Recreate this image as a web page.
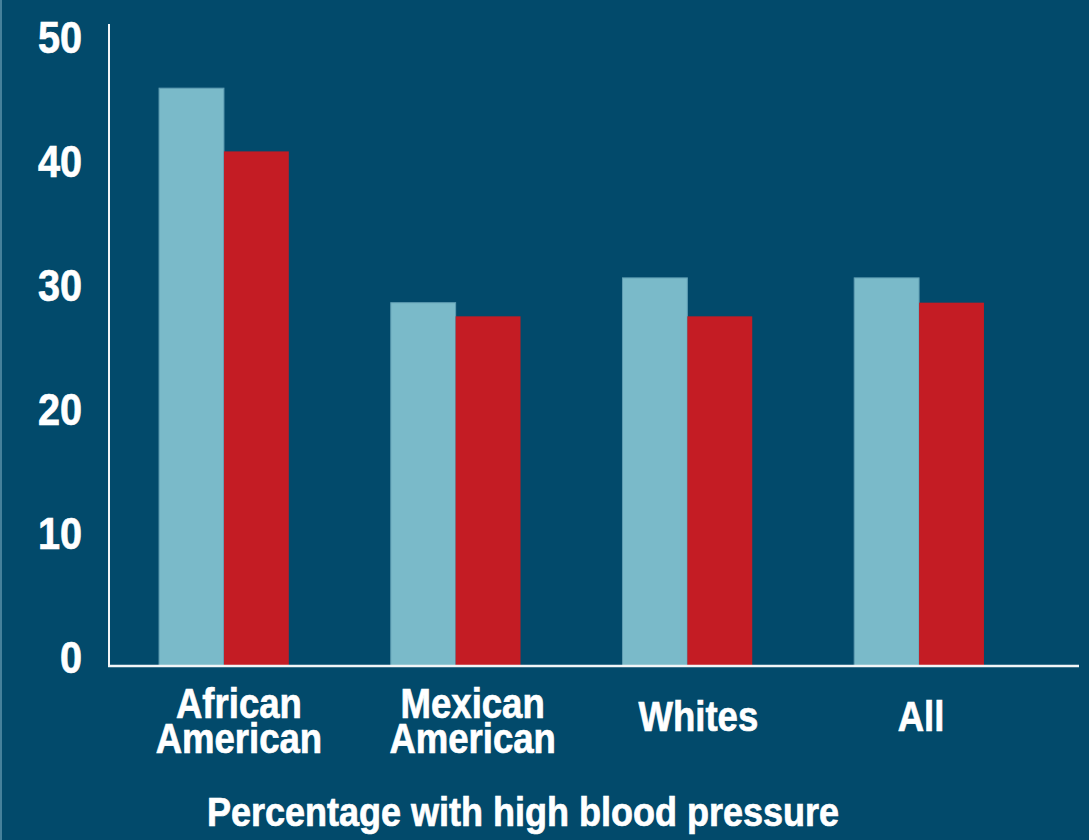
<!DOCTYPE html>
<html>
<head>
<meta charset="utf-8">
<script src="https://cdn.jsdelivr.net/npm/d3@7"></script>
<style>
  html, body { margin: 0; padding: 0; background: #024a6b; }
  svg { display: block; }
  text { font-family: "Liberation Sans", Arial, sans-serif; font-weight: bold; fill: #ffffff; stroke: #ffffff; stroke-width: 0.7px; }
</style>
</head>
<body>
<div id="chart"></div>
<script>
// data
const categories = [['African', 'American'], ['Mexican', 'American'], ['Whites'], ['All']]
const seriesNames = ['light', 'red']
const lightValues = [46.6, 29.3, 31.3, 31.3]
const redValues = [41.5, 28.2, 28.2, 29.3]
const yTicks = [0, 10, 20, 30, 40, 50]
const axisTitle = 'Percentage with high blood pressure'

const colors = { light: '#7abac9', red: '#c41c24' }

const draw = () => {
  const dimensions = {
    width: 1089,
    height: 840,
    left: 109,
    right: 1034,
    top: 46,
    bottom: 666,
  }

  const svg = d3
    .select('#chart')
    .append('svg')
    .attr('width', dimensions.width)
    .attr('height', dimensions.height)

  svg.append('rect')
    .attr('width', dimensions.width)
    .attr('height', dimensions.height)
    .attr('fill', '#024a6b')

  // faint left edge
  svg.append('line')
    .attr('x1', 1).attr('x2', 1)
    .attr('y1', 0).attr('y2', dimensions.height)
    .attr('stroke', '#5e94ab')
    .attr('stroke-width', 1.5)

  const dataset = categories.map((c, i) => ({
    label: c,
    light: lightValues[i],
    red: redValues[i],
  }))

  // scales
  const xScale = d3
    .scaleBand()
    .domain(d3.range(categories.length))
    .range([dimensions.left, dimensions.right])
    .paddingInner(0.44)
    .paddingOuter(0.216)

  const xInner = d3
    .scaleBand()
    .domain(seriesNames)
    .range([0, xScale.bandwidth()])

  const yScale = d3
    .scaleLinear()
    .domain([0, 50])
    .range([dimensions.bottom, dimensions.top])

  // bars
  const groups = svg
    .append('g')
    .selectAll('g')
    .data(dataset)
    .join('g')
    .attr('transform', (d, i) => `translate(${xScale(i)}, 0)`)

  groups
    .selectAll('rect')
    .data((d) => seriesNames.map((k) => ({ key: k, value: d[k] })))
    .join('rect')
    .attr('x', (d) => xInner(d.key))
    .attr('y', (d) => yScale(d.value))
    .attr('width', xInner.bandwidth())
    .attr('height', (d) => dimensions.bottom - yScale(d.value))
    .attr('fill', (d) => colors[d.key])
    .attr('stroke', (d) => (d.key === 'light' ? '#5f9db3' : 'none'))
    .attr('stroke-width', 1)

  // y axis labels (no tick marks in the picture), condensed look
  svg
    .append('g')
    .selectAll('text')
    .data(yTicks)
    .join('text')
    .attr('transform', (d) => `translate(82, ${yScale(d) - 9}) scale(0.88, 1)`)
    .attr('dy', '0.36em')
    .attr('text-anchor', 'end')
    .style('font-size', '45px')
    .text((d) => d)

  // axis lines
  svg.append('line')
    .attr('x1', dimensions.left).attr('x2', dimensions.left)
    .attr('y1', 24).attr('y2', dimensions.bottom + 1)
    .attr('stroke', '#f2f5f7')
    .attr('stroke-width', 2)

  svg.append('line')
    .attr('x1', dimensions.left - 1).attr('x2', 1079)
    .attr('y1', dimensions.bottom).attr('y2', dimensions.bottom)
    .attr('stroke', '#f2f5f7')
    .attr('stroke-width', 2.5)

  // category labels
  const labelOffsets = [15, 17, 11, 2]
  const labels = svg
    .append('g')
    .selectAll('g')
    .data(dataset)
    .join('g')
    .attr('transform', (d, i) =>
      `translate(${xScale(i) + xScale.bandwidth() / 2 + labelOffsets[i]}, ${d.label.length === 1 ? 731 : 718}) scale(0.85, 1)`)

  labels
    .selectAll('text')
    .data((d) => d.label)
    .join('text')
    .attr('x', 0)
    .attr('y', (d, i) => i * 35)
    .attr('text-anchor', 'middle')
    .style('font-size', '43px')
    .text((d) => d)

  // bottom title
  svg.append('text')
    .attr('transform', 'translate(523, 826) scale(0.9, 1)')
    .attr('text-anchor', 'middle')
    .style('font-size', '40px')
    .text(axisTitle)
}

draw()
</script>
</body>
</html>
